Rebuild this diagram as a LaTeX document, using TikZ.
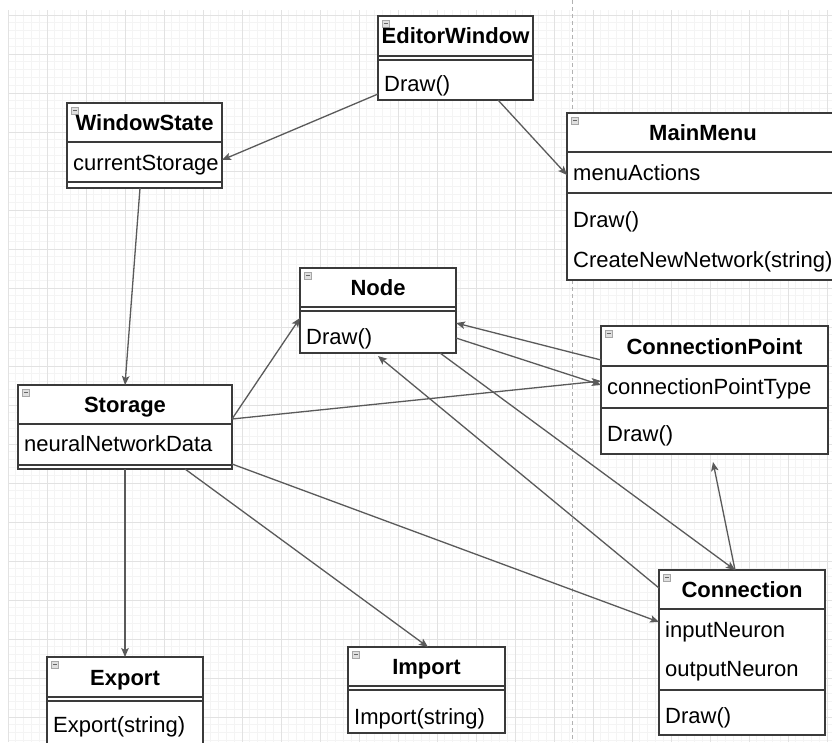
\documentclass[tikz,border=0pt]{standalone}
\usepackage{fontspec}
\setmainfont{Liberation Sans}
\usetikzlibrary{arrows.meta}
\definecolor{gridminor}{HTML}{F4F4F4}
\definecolor{gridmajor}{HTML}{E2E2E2}
\definecolor{boxline}{HTML}{3A3A3A}
\definecolor{conline}{HTML}{5A5A5A}
\tikzset{
  cls/.style={draw=boxline, line width=1.3pt, fill=white, inner sep=0pt, outer sep=0pt, anchor=north west},
  sep/.style={draw=boxline, line width=1.2pt},
  ttl/.style={font=\fontsize{22}{26}\selectfont\bfseries, inner sep=0pt, anchor=base},
  mem/.style={font=\fontsize{22}{26}\selectfont, inner sep=0pt, anchor=base west},
  icon/.style={draw=gray!70, fill=gray!25, line width=0.6pt, minimum size=7pt, inner sep=0pt, anchor=north west,
     path picture={\draw[gray!80!black, line width=0.8pt] ([xshift=1.5pt]path picture bounding box.west) -- ([xshift=-1.5pt]path picture bounding box.east);}},
  con/.style={draw=conline, line width=1.3pt, -{Stealth[length=9pt,width=7.5pt,inset=2pt]}}
}
\begin{document}
\begin{tikzpicture}[x=1pt,y=-1pt]
\useasboundingbox (0,0) rectangle (832,742);
\clip (0,0) rectangle (832,742);
\fill[white] (0,0) rectangle (832,742);
% grid
\foreach \i in {0,...,105} {
  \pgfmathsetmacro{\xx}{8+7.8*\i}
  \ifdim\xx pt<832pt \draw[gridminor, line width=0.8pt] (\xx,10) -- (\xx,742);\fi
}
\foreach \i in {0,...,94} {
  \pgfmathsetmacro{\yy}{15+7.8*\i}
  \ifdim\yy pt<742pt \draw[gridminor, line width=0.8pt] (8,\yy) -- (832,\yy);\fi
}
\foreach \i in {0,...,21} {
  \pgfmathsetmacro{\xx}{8+39*\i}
  \draw[gridmajor, line width=0.9pt] (\xx,10) -- (\xx,742);
}
\foreach \i in {0,...,18} {
  \pgfmathsetmacro{\yy}{15+39*\i}
  \draw[gridmajor, line width=0.9pt] (8,\yy) -- (832,\yy);
}
\draw[gray!60, line width=0.9pt, dash pattern=on 4pt off 3pt] (572,0) -- (572,742);

% ---------- class boxes ----------
\node[cls, minimum width=155pt, minimum height=84pt] (ew) at (378,16) {};
\node[cls, minimum width=155pt, minimum height=85pt] (ws) at (67,103) {};
\node[cls, minimum width=272pt, minimum height=167pt] (mm) at (567,113) {};
\node[cls, minimum width=156pt, minimum height=85pt] (nd) at (300,268) {};
\node[cls, minimum width=227pt, minimum height=128pt] (cp) at (601,326) {};
\node[cls, minimum width=214pt, minimum height=84pt] (st) at (18,385) {};
\node[cls, minimum width=166pt, minimum height=165pt] (cn) at (659,570) {};
\node[cls, minimum width=156pt, minimum height=95pt] (ex) at (47,657) {};
\node[cls, minimum width=157pt, minimum height=86pt] (im) at (348,647) {};

% section separators
\draw[sep] ([yshift=-40pt]ew.north west) -- ([yshift=-40pt]ew.north east);
\draw[sep] ([yshift=-44pt]ew.north west) -- ([yshift=-44pt]ew.north east);
\draw[sep] ([yshift=-39pt]ws.north west) -- ([yshift=-39pt]ws.north east);
\draw[sep] ([yshift=-79pt]ws.north west) -- ([yshift=-79pt]ws.north east);
\draw[sep] ([yshift=-39pt]mm.north west) -- ([yshift=-39pt]mm.north east);
\draw[sep] ([yshift=-80pt]mm.north west) -- ([yshift=-80pt]mm.north east);
\draw[sep] ([yshift=-39pt]nd.north west) -- ([yshift=-39pt]nd.north east);
\draw[sep] ([yshift=-43pt]nd.north west) -- ([yshift=-43pt]nd.north east);
\draw[sep] ([yshift=-40pt]cp.north west) -- ([yshift=-40pt]cp.north east);
\draw[sep] ([yshift=-82pt]cp.north west) -- ([yshift=-82pt]cp.north east);
\draw[sep] ([yshift=-39pt]st.north west) -- ([yshift=-39pt]st.north east);
\draw[sep] ([yshift=-80pt]st.north west) -- ([yshift=-80pt]st.north east);
\draw[sep] ([yshift=-39pt]cn.north west) -- ([yshift=-39pt]cn.north east);
\draw[sep] ([yshift=-120pt]cn.north west) -- ([yshift=-120pt]cn.north east);
\draw[sep] ([yshift=-40pt]ex.north west) -- ([yshift=-40pt]ex.north east);
\draw[sep] ([yshift=-44pt]ex.north west) -- ([yshift=-44pt]ex.north east);
\draw[sep] ([yshift=-39pt]im.north west) -- ([yshift=-39pt]im.north east);
\draw[sep] ([yshift=-43pt]im.north west) -- ([yshift=-43pt]im.north east);

% collapse icons
\node[icon] (ewi) at ([shift={(4pt,-4pt)}]ew.north west) {};
\node[icon] (wsi) at ([shift={(4pt,-4pt)}]ws.north west) {};
\node[icon] (mmi) at ([shift={(4pt,-4pt)}]mm.north west) {};
\node[icon] (ndi) at ([shift={(4pt,-4pt)}]nd.north west) {};
\node[icon] (cpi) at ([shift={(4pt,-4pt)}]cp.north west) {};
\node[icon] (sti) at ([shift={(4pt,-4pt)}]st.north west) {};
\node[icon] (cni) at ([shift={(4pt,-4pt)}]cn.north west) {};
\node[icon] (exi) at ([shift={(4pt,-4pt)}]ex.north west) {};
\node[icon] (imi) at ([shift={(4pt,-4pt)}]im.north west) {};

% titles
\node[ttl] (ewt) at ([yshift=-27.5pt]ew.north) {EditorWindow};
\node[ttl] (wst) at ([yshift=-27.5pt]ws.north) {WindowState};
\node[ttl] (mmt) at ([yshift=-27.5pt]mm.north) {MainMenu};
\node[ttl] (ndt) at ([yshift=-27.5pt]nd.north) {Node};
\node[ttl] (cpt) at ([yshift=-28pt]cp.north) {ConnectionPoint};
\node[ttl] (stt) at ([yshift=-27.5pt]st.north) {Storage};
\node[ttl] (cnt) at ([yshift=-27.5pt]cn.north) {Connection};
\node[ttl] (ext) at ([yshift=-28pt]ex.north) {Export};
\node[ttl] (imt) at ([yshift=-27.5pt]im.north) {Import};

% members
\node[mem] (ewm1) at (384,91) {Draw()};
\node[mem] (wsm1) at (73,170) {currentStorage};
\node[mem] (mmm1) at (573,180) {menuActions};
\node[mem] (mmm2) at (573,227) {Draw()};
\node[mem] (mmm3) at (573,267) {CreateNewNetwork(string)};
\node[mem] (ndm1) at (306,344) {Draw()};
\node[mem] (cpm1) at (607,394) {connectionPointType};
\node[mem] (cpm2) at (607,441) {Draw()};
\node[mem] (stm1) at (24,451) {neuralNetworkData};
\node[mem] (cnm1) at (665,637) {inputNeuron};
\node[mem] (cnm2) at (665,676) {outputNeuron};
\node[mem] (cnm3) at (665,723) {Draw()};
\node[mem] (exm1) at (53,732) {Export(string)};
\node[mem] (imm1) at (354,724) {Import(string)};

% connectors
\draw[con] ([yshift=-78pt]ew.north west) -- ([yshift=-57pt]ws.north east);
\draw[con] ([xshift=120pt]ew.south west) -- ([yshift=-62pt]mm.north west);
\draw[con] ([xshift=73pt]ws.south west) -- ([xshift=107pt]st.north west);
\draw[con] ([yshift=-34pt]st.north east) -- ([yshift=-50pt]nd.north west);
\draw[con] ([yshift=-34pt]st.north east) -- ([yshift=-55pt]cp.north west);
\draw[con] ([xshift=107pt]st.south west) -- ([xshift=78pt]ex.north west);
\draw[con] ([xshift=167pt]st.south west) -- ([xshift=80pt]im.north west);
\draw[con] ([yshift=-79pt]st.north east) -- ([yshift=-52pt]cn.north west);
\draw[con] ([yshift=-34pt]cp.north west) -- ([yshift=-55pt]nd.north east);
\draw[con] ([yshift=-70pt]nd.north east) -- ([yshift=-59pt]cp.north west);
\draw[con] ([xshift=140pt]nd.south west) -- ([xshift=76pt]cn.north west);
\draw[con] ([yshift=-18pt]cn.north west) -- ([xshift=78pt,yshift=-3pt]nd.south west);
\draw[con] ([xshift=76pt]cn.north west) -- ([xshift=112pt,yshift=-8pt]cp.south west);
\end{tikzpicture}
\end{document}
